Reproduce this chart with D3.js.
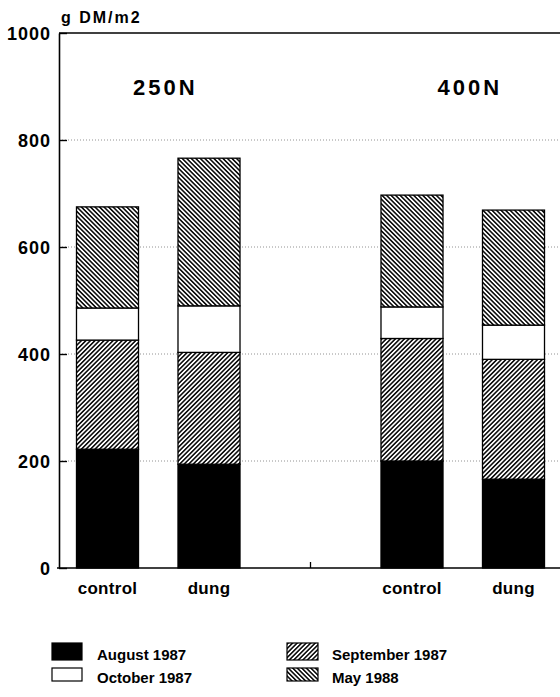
<!DOCTYPE html>
<html>
<head>
<meta charset="utf-8">
<script src="https://cdn.jsdelivr.net/npm/d3@7"></script>
<style>
  body { margin: 0; background: #fff; }
  text { font-family: "Liberation Sans", Arial, sans-serif; font-weight: bold; fill: #000; }
</style>
</head>
<body>
<div class="module"></div>
<script>
// values, g DM/m2 per harvest
const groups = ["250N", "400N"];
const treatments = ["control", "dung"];
const august = [222, 194, 200, 166];
const september = [204, 209, 229, 224];
const october = [60, 87, 59, 64];
const may = [189, 276, 209, 215];
const seriesNames = ["August 1987", "September 1987", "October 1987", "May 1988"];
const yTicks = [0, 200, 400, 600, 800, 1000];

const rows = [];
groups.forEach((g, gi) => treatments.forEach((t, ti) => {
	const i = gi * 2 + ti;
	rows.push({group: g, treatment: t,
		"August 1987": august[i], "September 1987": september[i],
		"October 1987": october[i], "May 1988": may[i]});
}));

drawChart(d3.select('.module').node(), rows);

function drawChart(rootDOM, data) {
	const W = 560;
	const H = 697;
	const left = 59, right = 560, top = 33, bottom = 568;

	const svg = d3.select(rootDOM).append('svg')
		.attr('width', W)
		.attr('height', H);

	const defs = svg.append('defs');
	// hatch patterns: "/" for September, "\" for May
	[['sep', 45], ['may', -45]].forEach(([id, ang]) => {
		const p = defs.append('pattern')
			.attr('id', id)
			.attr('patternUnits', 'userSpaceOnUse')
			.attr('width', 3.2).attr('height', 10)
			.attr('patternTransform', `rotate(${ang})`);
		p.append('rect').attr('width', 3.2).attr('height', 10).attr('fill', '#fff');
		p.append('line').attr('x1', 0.8).attr('x2', 0.8).attr('y1', 0).attr('y2', 10)
			.attr('stroke', '#000').attr('stroke-width', 1.5);
	});
	const fills = {"August 1987": "#000", "September 1987": "url(#sep)",
		"October 1987": "#fff", "May 1988": "url(#may)"};

	const y = d3.scaleLinear().domain([0, 1000]).range([bottom, top]);
	const x0 = d3.scaleBand().domain(groups).range([56.75, 564.25]).paddingInner(1/3).paddingOuter(0);
	const x1 = d3.scaleBand().domain(treatments).range([0, x0.bandwidth()])
		.paddingInner(0.389).paddingOuter(0.1945);

	// dotted grid
	svg.append('g').selectAll('line')
		.data(yTicks.filter(d => d > 0 && d < 1000))
		.enter().append('line')
		.attr('x1', left).attr('x2', right)
		.attr('y1', d => y(d)).attr('y2', d => y(d))
		.attr('stroke', '#777').attr('stroke-width', 0.8)
		.attr('stroke-dasharray', '1,2');

	// stacked bars
	const stack = d3.stack().keys(seriesNames)(data);
	const layers = svg.append('g').selectAll('.layer')
		.data(stack)
		.enter().append('g')
		.attr('class', 'layer')
		.attr('fill', d => fills[d.key]);
	layers.selectAll('rect')
		.data(d => d)
		.enter().append('rect')
		.attr('x', d => x0(d.data.group) + x1(d.data.treatment))
		.attr('width', x1.bandwidth())
		.attr('y', d => y(d[1]))
		.attr('height', d => y(d[0]) - y(d[1]))
		.attr('stroke', '#000')
		.attr('stroke-width', 1.3);

	// y axis
	const yAxis = svg.append('g')
		.attr('transform', `translate(${left},0)`)
		.call(d3.axisLeft(y).tickValues(yTicks).tickFormat(d3.format('d'))
			.tickSizeInner(-8).tickSizeOuter(0).tickPadding(8));
	yAxis.attr('font-size', null).attr('font-family', null);
	yAxis.select('.domain').attr('stroke-width', 1.6);
	yAxis.selectAll('.tick line').attr('stroke-width', 1.4);
	yAxis.selectAll('.tick text')
		.style('font-size', '18px')
		.style('letter-spacing', '1px')
		.attr('dy', '0.36em');

	// frame top and bottom
	svg.append('line').attr('x1', left).attr('x2', right).attr('y1', top).attr('y2', top)
		.attr('stroke', '#000').attr('stroke-width', 1.6);
	svg.append('line').attr('x1', left - 2).attr('x2', right).attr('y1', bottom).attr('y2', bottom)
		.attr('stroke', '#000').attr('stroke-width', 1.6);
	// small tick between the two groups
	const midX = x0('250N') + x0.bandwidth() + x1.step() / 2;
	svg.append('line')
		.attr('x1', midX).attr('x2', midX)
		.attr('y1', bottom).attr('y2', bottom - 6)
		.attr('stroke', '#000').attr('stroke-width', 1.3);

	svg.append('text').attr('x', 61).attr('y', 23)
		.style('font-size', '16px').style('letter-spacing', '2px')
		.text('g DM/m2');

	// group titles
	svg.selectAll('.gtitle').data(groups).enter().append('text')
		.attr('x', d => x0(d) + x0.bandwidth() / 2 + 7)
		.attr('y', 95)
		.attr('text-anchor', 'middle')
		.style('font-size', '22px').style('letter-spacing', '3px')
		.text(d => d);

	// bar labels
	svg.selectAll('.xlab').data(data).enter().append('text')
		.attr('x', d => x0(d.group) + x1(d.treatment) + x1.bandwidth() / 2)
		.attr('y', 594)
		.attr('text-anchor', 'middle')
		.style('font-size', '17px').style('letter-spacing', '0.3px')
		.text(d => d.treatment);

	// legend, two columns
	const lg = svg.selectAll('.leg').data(seriesNames)
		.enter().append('g')
		.attr('transform', (d, i) => `translate(${i % 2 ? 287 : 52},${i < 2 ? 643 : 668})`);
	lg.append('rect')
		.attr('width', (d, i) => i % 2 ? 31 : 30)
		.attr('height', (d, i) => i < 2 ? 17 : 13)
		.attr('fill', d => fills[d])
		.attr('stroke', '#000').attr('stroke-width', 1.2);
	lg.append('text')
		.attr('x', 45)
		.attr('y', (d, i) => i < 2 ? 17 : 15)
		.style('font-size', '15px')
		.text(d => d);
}
</script>
</body>
</html>
